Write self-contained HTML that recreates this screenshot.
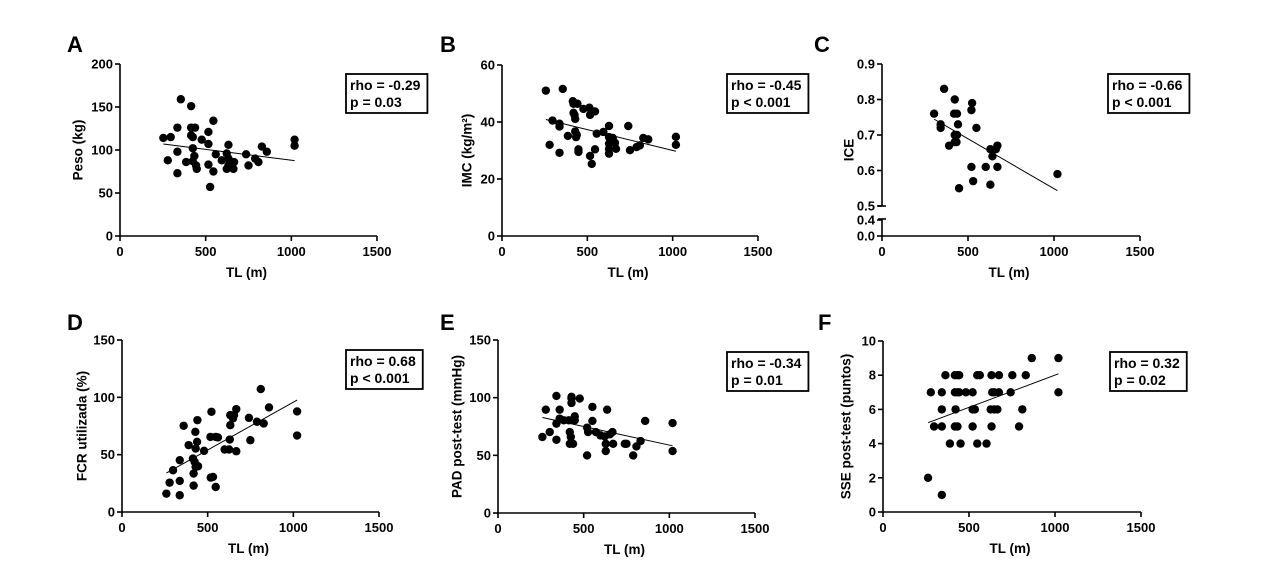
<!DOCTYPE html>
<html><head><meta charset="utf-8">
<style>
html,body{margin:0;padding:0;background:#fff;}
svg{display:block;font-family:"Liberation Sans",Arial,sans-serif;font-weight:bold;}
</style></head>
<body>
<svg id="chart" width="1262" height="588" viewBox="0 0 1262 588"></svg>
<script>
// ---- data arrays ----
const xTickLabels = [0, 500, 1000, 1500];
const panelLetters = ["A","B","C","D","E","F"];
const yTitles = ["Peso (kg)","IMC (kg/m\u00B2)","ICE","FCR utilizada (%)","PAD post-test (mmHg)","SSE post-test (puntos)"];
const statRho = ["rho = -0.29","rho = -0.45","rho = -0.66","rho = 0.68","rho = -0.34","rho = 0.32"];
const statP = ["p = 0.03","p < 0.001","p < 0.001","p < 0.001","p = 0.01","p = 0.02"];
const yTicksA = [0,50,100,150,200];
const yTicksB = [0,20,40,60];
const yTicksC = [0.0,0.4,0.5,0.6,0.7,0.8,0.9];
const yTicksD = [0,50,100,150];
const yTicksE = [0,50,100,150];
const yTicksF = [0,2,4,6,8,10];

const tlA = [253,296,355,415,335,415,438,516,545,415,425,477,516,279,335,386,425,434,425,444,448,516,545,526,335,559,594,633,623,633,633,623,653,662,666,736,750,789,808,828,857,1019,1019];
const pesoA = [114,115,159,151,126,126,126,121,134,117,115,112,107,88,98,86,102,93,87,82,78,83,75,57,73,95,88,106,96,90,82,78,82,78,86,95,82,90,86,104,98,112,105];

const tlB = [257,356,415,419,442,477,512,516,545,419,425,429,296,337,337,386,429,434,438,279,337,448,448,516,526,545,555,594,627,627,627,627,627,649,662,668,740,750,789,808,828,857,1019,1019];
const imcB = [51.0,51.6,47.3,46.4,46.4,44.6,45.0,42.5,43.7,43.2,42.5,41.1,40.5,39.4,38.4,35.1,36.7,34.7,35.5,32.0,29.2,30.4,29.5,28.1,25.3,30.4,35.9,36.5,38.6,34.7,32.4,30.6,28.9,34.4,32.7,30.6,38.6,30.1,31.2,31.8,34.4,33.9,34.8,32.0];

const tlC = [303,341,341,361,423,419,436,442,436,423,390,423,433,524,520,549,520,530,448,603,630,642,662,671,671,630,1020];
const iceC = [0.76,0.73,0.72,0.83,0.80,0.76,0.76,0.73,0.70,0.70,0.67,0.68,0.68,0.79,0.77,0.72,0.61,0.57,0.55,0.61,0.66,0.64,0.66,0.67,0.61,0.56,0.59];

const tlD = [259,278,298,337,337,337,360,389,414,418,418,424,430,444,428,430,438,440,479,522,516,518,531,547,547,560,599,625,629,632,632,648,654,667,667,741,749,788,810,827,858,1022,1022];
const fcrD = [16,25.6,36.4,45.2,27.1,14.6,75.2,58.3,46.6,33.5,23,43.7,39.3,39.9,69.9,55.3,61.2,80.1,53.3,87.4,65.5,30,30.6,21.8,65.5,65,54.5,54.5,63.2,75.7,84.5,81.6,84.5,89.7,53,82.1,62.6,78.7,107.2,77.2,91.2,87.7,66.7];

const tlE = [259,279,302,341,341,341,360,360,384,413,419,425,419,438,429,429,429,448,448,477,520,526,551,551,520,571,598,623,629,629,637,653,668,672,740,750,808,832,789,859,1019,1019];
const padE = [65.9,89.6,70.2,63.5,77.5,101.5,89.6,81.8,80.4,80.4,70.2,65.9,60,60,99.2,95.4,100.7,83.8,80.4,99.2,74,70.2,92,79.8,49.9,70.2,67.3,66.4,60,53.7,89.6,68.2,70.2,60,60,60,57.7,62.4,49.9,79.8,78,53.7];

const tlF = [865,1020,363,418,433,443,548,563,631,674,752,830,278,342,418,433,443,482,521,635,647,674,742,1020,342,422,521,534,626,647,665,810,297,342,418,433,521,631,791,389,451,548,602,262,342];
const sseF = [9,9,8,8,8,8,8,8,8,8,8,8,7,7,7,7,7,7,7,7,7,7,7,7,6,6,6,6,6,6,6,6,5,5,5,5,5,5,5,4,4,4,4,2,1];

// ---- layout (pixels, not data) ----
const panels = [
 {x0:120,x1:377,yT:64,yB:236,ymax:200,ticks:yTicksA,xs:tlA,ys:pesoA,lx:67,ly:52,tx:78,box:[346,74]},
 {x0:502,x1:758,yT:65,yB:236,ymax:60,ticks:yTicksB,xs:tlB,ys:imcB,lx:440,ly:52,tx:467,box:[727,74]},
 {x0:882,x1:1140,yT:64,yB:236,ymax:0.9,ticks:yTicksC,xs:tlC,ys:iceC,lx:814,ly:52,tx:849,box:[1108,74],broken:true},
 {x0:122,x1:379,yT:340,yB:512,ymax:150,ticks:yTicksD,xs:tlD,ys:fcrD,lx:67,ly:330,tx:82,box:[346,350]},
 {x0:498,x1:755,yT:340,yB:513,ymax:150,ticks:yTicksE,xs:tlE,ys:padE,lx:440,ly:330,tx:457,box:[727,352]},
 {x0:883,x1:1141,yT:341,yB:512,ymax:10,ticks:yTicksF,xs:tlF,ys:sseF,lx:818,ly:330,tx:846,box:[1110,352]}
];
const NS="http://www.w3.org/2000/svg";
const svg=document.getElementById('chart');
function mk(tag,attrs,parent){const e=document.createElementNS(NS,tag);for(const k in attrs)e.setAttribute(k,attrs[k]);(parent||svg).appendChild(e);return e;}

panels.forEach((p,i)=>{
  const g=mk('g',{});
  
  
  const xS=v=>p.x0+(v/1500)*(p.x1-p.x0);
  let yS;
  if(p.broken){
    yS=v=>v<=0.4? p.yB-(v/0.4)*16 : 206-(v-0.5)/0.4*(206-p.yT);
  } else yS=v=>p.yB-(v/p.ymax)*(p.yB-p.yT);

  const L=mk('text',{x:p.lx,y:p.ly,'font-size':22,fill:'#000'},g);L.textContent=panelLetters[i];
  
  

  const xa=mk('line',{x1:p.x0,y1:p.yB,x2:p.x1,y2:p.yB,stroke:'#000','stroke-width':1.6},g);
  
  
  if(p.broken){
    const a1=mk('line',{x1:p.x0,y1:p.yT,x2:p.x0,y2:206,stroke:'#000','stroke-width':1.6},g);
    
    
    const a2=mk('line',{x1:p.x0,y1:219,x2:p.x0,y2:p.yB,stroke:'#000','stroke-width':1.6},g);
    
    
    mk('line',{x1:p.x0-4,y1:206,x2:p.x0+4,y2:206,stroke:'#000','stroke-width':1.6},g);
    mk('line',{x1:p.x0-4,y1:219,x2:p.x0+4,y2:219,stroke:'#000','stroke-width':1.6},g);
  } else {
    const ya=mk('line',{x1:p.x0,y1:p.yT,x2:p.x0,y2:p.yB,stroke:'#000','stroke-width':1.6},g);
    
    
  }
  p.ticks.forEach(t=>{
    const y=yS(t);
    mk('line',{x1:p.x0-5,y1:y,x2:p.x0,y2:y,stroke:'#000','stroke-width':1.6},g);
    const tt=mk('text',{x:p.x0-7,y:y+4.5,'font-size':13,'text-anchor':'end'},g);
    tt.textContent=p.broken?t.toFixed(1):t;
    
    
  });
  xTickLabels.forEach(t=>{
    const x=xS(t);
    mk('line',{x1:x,y1:p.yB,x2:x,y2:p.yB+5,stroke:'#000','stroke-width':1.6},g);
    const tt=mk('text',{x:x,y:p.yB+20,'font-size':13,'text-anchor':'middle'},g);
    tt.textContent=t;
    
    
  });
  const xt=mk('text',{x:(p.x0+p.x1)/2-2,y:p.yB+41,'font-size':13.5,'text-anchor':'middle'},g);
  xt.textContent='TL (m)';
  
  
  const cy=(p.yT+p.yB)/2;
  const yt=mk('text',{x:p.tx,y:cy,'font-size':13.5,'text-anchor':'middle','dominant-baseline':'central',transform:`rotate(-90 ${p.tx} ${cy})`},g);
  yt.textContent=yTitles[i];
  
  

  p.xs.forEach((xv,j)=>{
    const c=mk('circle',{cx:xS(xv),cy:yS(p.ys[j]),r:4.2,fill:'#000'},g);
    
    
  });
  const n=p.xs.length;let mx=0,my=0;p.xs.forEach((x,j)=>{mx+=x;my+=p.ys[j];});mx/=n;my/=n;
  let sxy=0,sxx=0;p.xs.forEach((x,j)=>{sxy+=(x-mx)*(p.ys[j]-my);sxx+=(x-mx)*(x-mx);});
  const b=sxy/sxx,a=my-b*mx;const xmin=Math.min(...p.xs),xmax=Math.max(...p.xs);
  const rl=mk('line',{x1:xS(xmin),y1:yS(a+b*xmin),x2:xS(xmax),y2:yS(a+b*xmax),stroke:'#000','stroke-width':1},g);
  
  

  const bg=mk('g',{},g);
  
  
  const rect=mk('rect',{x:p.box[0],y:p.box[1],width:80,height:39,fill:'#fff',stroke:'#000','stroke-width':1.8},bg);
  const t1=mk('text',{x:p.box[0]+4,y:p.box[1]+16,'font-size':14},bg);t1.textContent=statRho[i];
  const t2=mk('text',{x:p.box[0]+4,y:p.box[1]+33,'font-size':14},bg);t2.textContent=statP[i];
  const w=Math.max(t1.getComputedTextLength(),t2.getComputedTextLength());
  rect.setAttribute('width',w+11);
});
</script>
</body></html>
